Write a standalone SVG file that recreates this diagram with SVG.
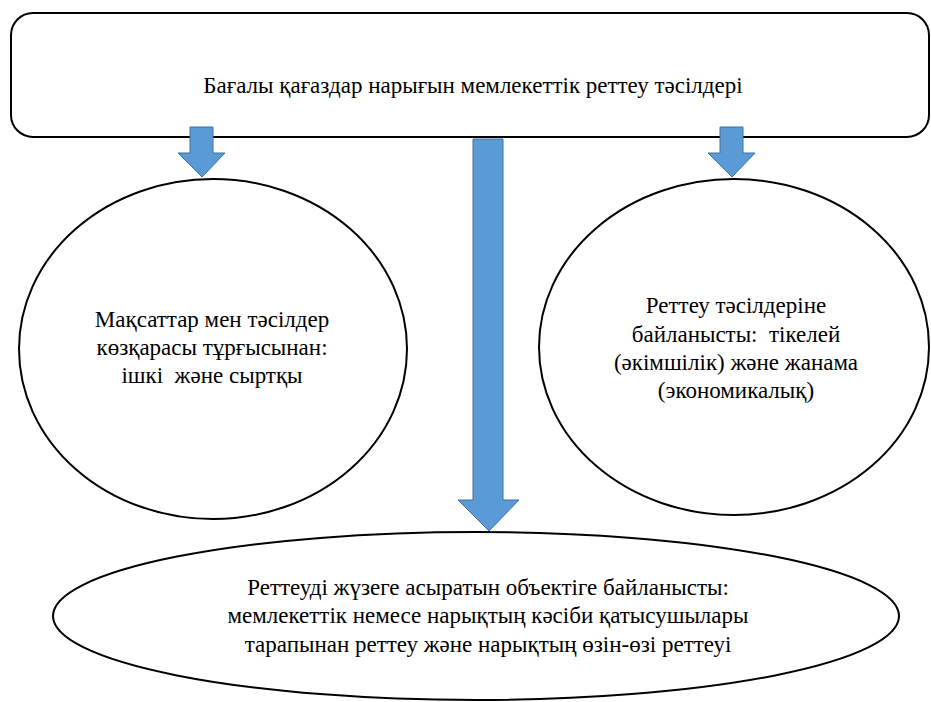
<svg xmlns="http://www.w3.org/2000/svg" width="931" height="702" viewBox="0 0 931 702">
<style>
.shape{fill:#ffffff;stroke:#000000;stroke-width:2}
.arrow{fill:#5B9BD5;stroke:#41719C;stroke-width:1}
.t{font-family:"Liberation Serif","Times New Roman","DejaVu Serif",serif;font-size:23px;fill:#000000;text-anchor:middle}
</style>
<rect x="0" y="0" width="931" height="702" fill="#ffffff"/>
<g id="node-top">
<rect class="shape" x="11" y="13" width="918" height="124" rx="22" ry="22"/>
<text class="t" x="473" y="93">Бағалы қағаздар нарығын мемлекеттік реттеу тәсілдері</text>
</g>
<g id="node-left">
<ellipse class="shape" cx="213" cy="349" rx="194" ry="170"/>
<text class="t" x="212" y="327">Мақсаттар мен тәсілдер</text>
<text class="t" x="212" y="355">көзқарасы тұрғысынан:</text>
<text class="t" x="212" y="383" xml:space="preserve">ішкі  және сыртқы</text>
</g>
<g id="node-right">
<ellipse class="shape" cx="734" cy="347" rx="195" ry="168"/>
<text class="t" x="736" y="313">Реттеу тәсілдеріне</text>
<text class="t" x="736" y="342" xml:space="preserve">байланысты:  тікелей</text>
<text class="t" x="736" y="370">(әкімшілік) және жанама</text>
<text class="t" x="736" y="398">(экономикалық)</text>
</g>
<g id="node-bottom">
<ellipse class="shape" cx="476" cy="616" rx="423" ry="84"/>
<text class="t" x="488" y="595">Реттеуді жүзеге асыратын объектіге байланысты:</text>
<text class="t" x="488" y="623">мемлекеттік немесе нарықтың кәсіби қатысушылары</text>
<text class="t" x="488" y="652">тарапынан реттеу және нарықтың өзін-өзі реттеуі</text>
</g>
<g id="connectors">
<polygon class="arrow" points="190,127 213,127 213,153 225,153 202,177 178,153 190,153"/>
<polygon class="arrow" points="720,127 743,127 743,153 755,153 732,177 708,153 720,153"/>
<polygon class="arrow" points="473,139 503,139 503,500 519,500 489,531 458,500 473,500"/>
</g>
</svg>
